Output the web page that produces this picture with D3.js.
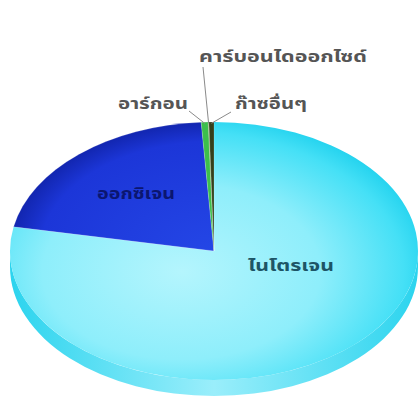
<!DOCTYPE html>
<html>
<head>
<meta charset="utf-8">
<script src="https://cdn.jsdelivr.net/npm/d3@7"></script>
<style>
html,body{margin:0;padding:0;background:#fff;}
svg{display:block;}
text{font-family:"Noto Sans Thai","Loma","Garuda","Tahoma","DejaVu Sans",sans-serif;font-weight:bold;}
</style>
</head>
<body>
<svg id="c" width="420" height="406"></svg>
<script>
const categories = ["ไนโตรเจน","ออกซิเจน","อาร์กอน","คาร์บอนไดออกไซด์","ก๊าซอื่นๆ"];
const values = [78, 21, 0.55, 0.05, 0.4];
const colors = ["url(#gN)","url(#gO)","#3cbf4c","#6b8a3a","#34401c"];

const svg = d3.select("#c");
const cx = 214, cy = 251, rx = 204, ry = 129, depth = 16;

const defs = svg.append("defs");
const gN = defs.append("radialGradient").attr("id","gN")
  .attr("cx","0.42").attr("cy","0.58").attr("r","0.62");
gN.append("stop").attr("offset","0").attr("stop-color","#b4f5fd");
gN.append("stop").attr("offset","0.55").attr("stop-color","#8eeefb");
gN.append("stop").attr("offset","0.88").attr("stop-color","#45e0f6");
gN.append("stop").attr("offset","1").attr("stop-color","#22d2ee");
const gO = defs.append("radialGradient").attr("id","gO")
  .attr("gradientUnits","userSpaceOnUse").attr("cx",0).attr("cy",0).attr("r",rx);
gO.append("stop").attr("offset","0").attr("stop-color","#2446e6");
gO.append("stop").attr("offset","0.85").attr("stop-color","#1c36d8");
gO.append("stop").attr("offset","1").attr("stop-color","#1226b0");
const gS = defs.append("linearGradient").attr("id","gS")
  .attr("x1","0").attr("x2","1").attr("y1","0").attr("y2","0");
gS.append("stop").attr("offset","0").attr("stop-color","#2cd4ee");
gS.append("stop").attr("offset","0.5").attr("stop-color","#9aeefb");
gS.append("stop").attr("offset","1").attr("stop-color","#2cd4ee");

// side (front rim)
svg.append("path")
  .attr("d",`M${cx+rx},${cy} A${rx},${ry} 0 0 1 ${cx-rx},${cy} L${cx-rx},${cy+depth} A${rx},${ry} 0 0 0 ${cx+rx},${cy+depth} Z`)
  .attr("fill","url(#gS)");

const pie = d3.pie().sort(null).value(d => d)(values);
const arc = d3.arc().innerRadius(0).outerRadius(rx);
const g = svg.append("g").attr("transform",`translate(${cx},${cy}) scale(1,${ry/rx})`);
g.selectAll("path").data(pie).join("path")
  .attr("d",arc)
  .attr("fill",(d,i)=>colors[i])
  .attr("stroke",(d,i)=> i===0 ? "none" : "rgba(255,255,255,0.35)")
  .attr("stroke-width",0.6);

function outerPt(d, k){
  const a = (d.startAngle + d.endAngle)/2;
  return [cx + rx*k*Math.sin(a), cy - ry*k*Math.cos(a)];
}

// labels
const inside = [
  {i:0, x:291, y:271, fill:"#1d5566", w:86},
  {i:1, x:136, y:199, fill:"#0b1670", w:78}
];
inside.forEach(o=>{
  svg.append("text").attr("x",o.x).attr("y",o.y).attr("text-anchor","middle")
    .attr("font-size",15).attr("fill",o.fill)
    .attr("textLength",o.w).attr("lengthAdjust","spacingAndGlyphs")
    .text(categories[o.i]);
});
const outside = [
  {i:2, x:153, y:109, w:70, lx:189, ly:111},
  {i:3, x:283, y:62, w:168, lx:203, ly:67},
  {i:4, x:271, y:109, w:72, lx:231, ly:112}
];
outside.forEach(o=>{
  const p = outerPt(pie[o.i], 0.99);
  svg.append("line").attr("x1",o.lx).attr("y1",o.ly).attr("x2",p[0]).attr("y2",p[1])
    .attr("stroke","#8a8a8a").attr("stroke-width",1);
  svg.append("text").attr("x",o.x).attr("y",o.y).attr("text-anchor","middle")
    .attr("font-size",15).attr("fill","#555")
    .attr("textLength",o.w).attr("lengthAdjust","spacingAndGlyphs")
    .text(categories[o.i]);
});
</script>
</body>
</html>
